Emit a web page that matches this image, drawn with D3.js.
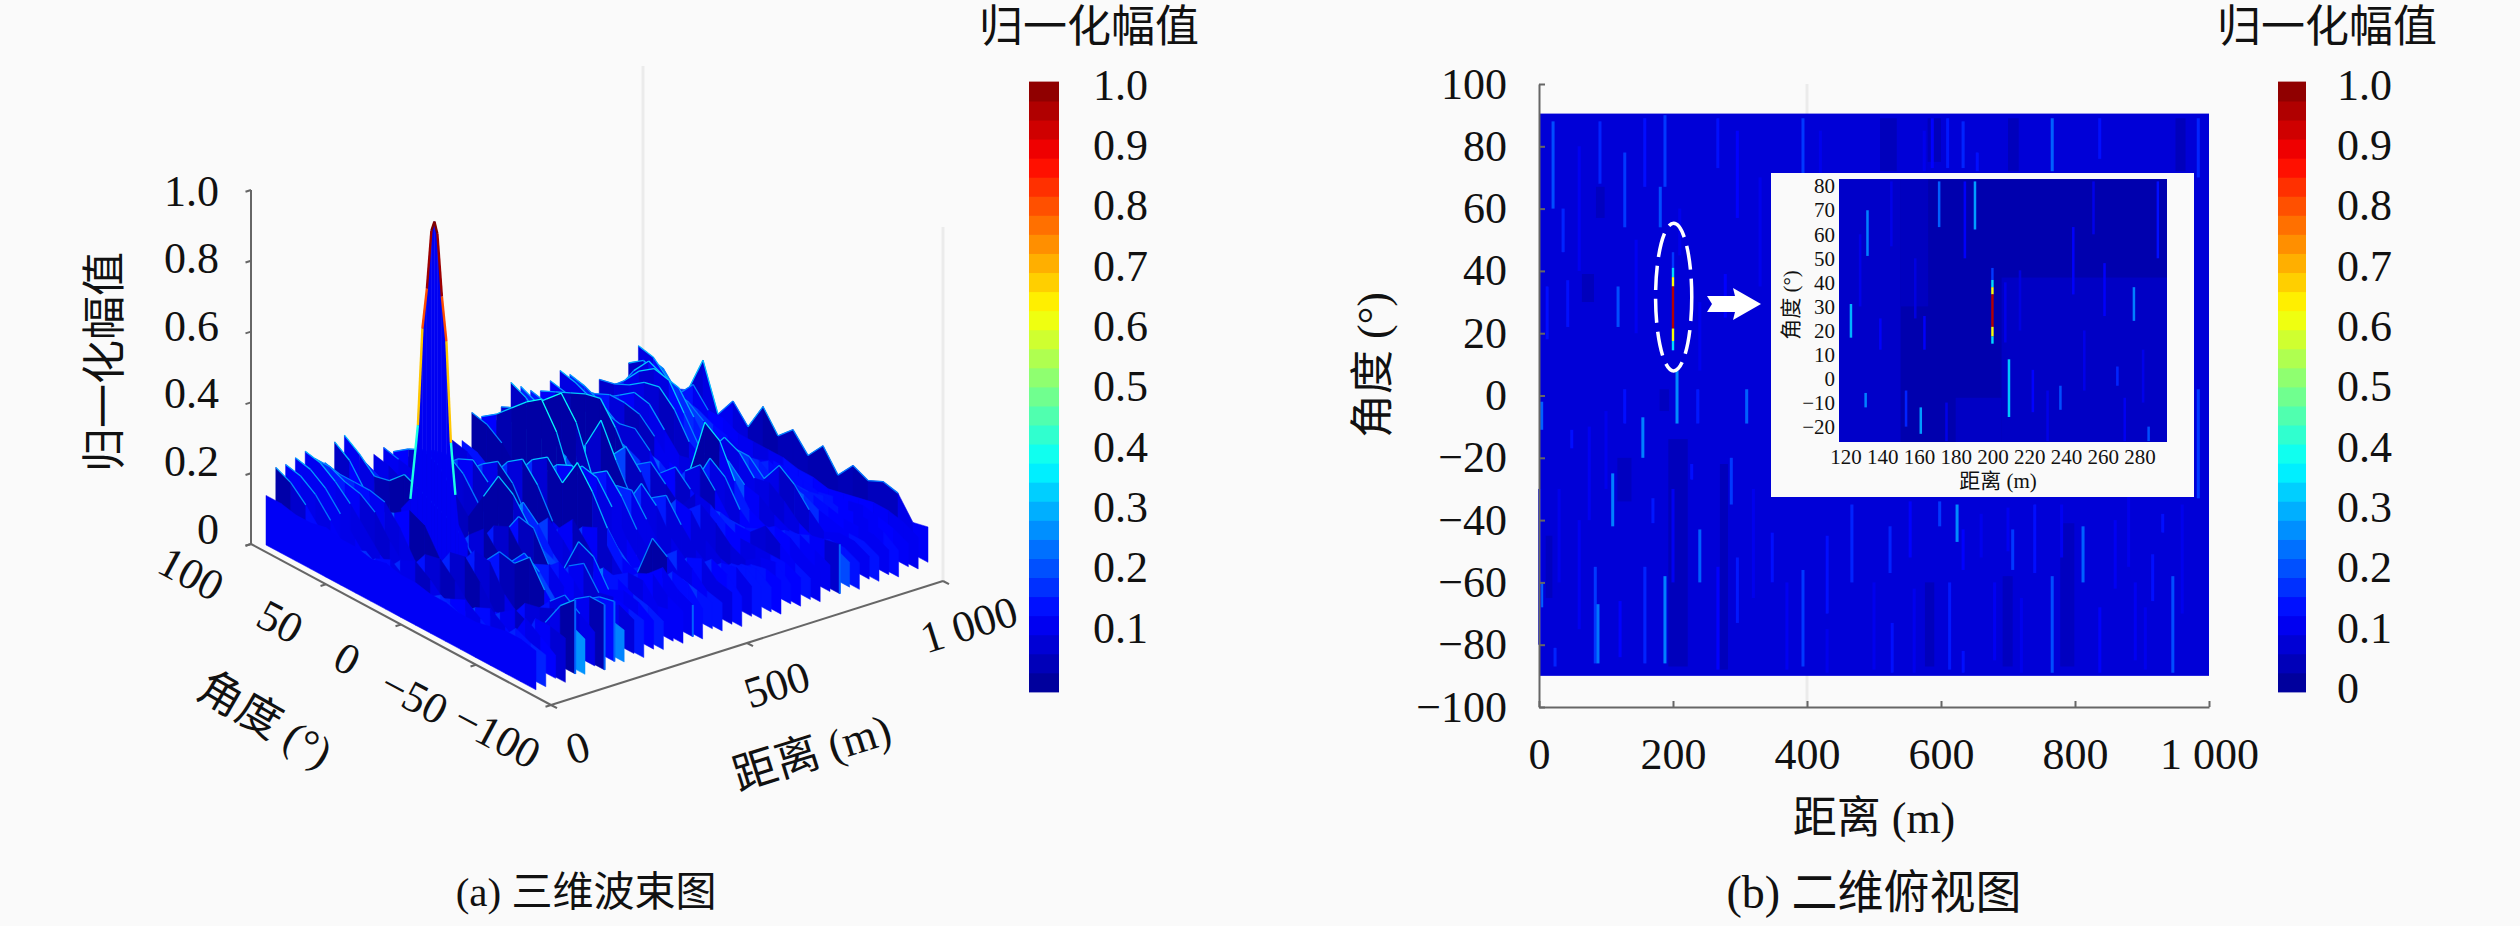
<!DOCTYPE html>
<html>
<head>
<meta charset="utf-8">
<script src="https://cdn.jsdelivr.net/npm/d3@7"></script>
<style>
  html, body { margin: 0; background: #fafafa; }
  svg { display: block; }
  text { font-family: 'Liberation Serif', 'Noto Sans CJK SC', serif; fill: #111; }
</style>
</head>
<body>
<svg id="chart" width="2520" height="926">
  <defs><filter id="soft"><feGaussianBlur stdDeviation="0.6"/></filter></defs>
</svg>
<script>
// ---- data ----
const surfaceRanges = d3.range(41).map(i => i * 25)
const surfaceAngles = [90, 80, 70, 60, 50, 40, 30, 20, 10, 0, -10, -20, -30, -40, -50, -60, -70, -80, -90]
// one row per range, one value per angle
const surfaceHeights = [
  [.16,.16,.15,.15,.16,.15,.15,.14,.15,.14,.14,.13,.13,.12,.12,.13,.14,.14,.13],
  [.23,.21,.17,.12,.09,.11,.13,.10,.08,.11,.09,.12,.10,.08,.10,.09,.14,.12,.11],
  [.23,.22,.19,.14,.08,.06,.10,.12,.09,.05,.08,.10,.12,.09,.06,.08,.16,.13,.10],
  [.24,.23,.20,.15,.10,.05,.06,.11,.13,.10,.06,.05,.09,.11,.08,.05,.15,.15,.14],
  [.25,.24,.21,.17,.12,.07,.04,.08,.14,.15,.11,.06,.05,.09,.12,.10,.13,.20,.24],
  [.22,.22,.20,.19,.16,.10,.05,.04,.09,.16,.17,.12,.06,.07,.13,.14,.16,.14,.12],
  [.20,.19,.19,.19,.18,.13,.06,.03,.05,.12,.18,.17,.10,.06,.10,.15,.19,.16,.13],
  [.25,.22,.16,.12,.14,.17,.15,.08,.04,.07,.14,.19,.18,.22,.15,.10,.17,.20,.20],
  [.26,.23,.19,.20,.24,.22,.20,.18,.14,.08,.10,.15,.20,.17,.12,.09,.16,.19,.20],
  [.20,.16,.12,.08,.05,.07,.12,.14,.09,.05,.06,.12,.16,.18,.14,.08,.13,.12,.11],
  [.17,.15,.11,.07,.04,.03,.06,.12,.16,.11,.05,.08,.14,.18,.15,.10,.12,.15,.13],
  [.18,.17,.15,.10,.06,.04,.04,.09,.16,.18,.12,.06,.10,.16,.19,.13,.14,.13,.12],
  [.19,.18,.17,.14,.10,.06,.05,.06,.13,.20,.19,.11,.12,.22,.20,.13,.15,.14,.11],
  [.17,.20,.22,.20,.15,.10,.18,.26,.23,.17,.12,.10,.08,.12,.16,.15,.13,.12,.10],
  [.14,.18,.21,.22,.19,.13,.08,.14,.20,.16,.10,.06,.05,.09,.13,.16,.16,.11,.12],
  [.12,.13,.16,.20,.22,.18,.10,.07,.12,.17,.13,.08,.04,.06,.11,.15,.17,.13,.11],
  [.12,.12,.13,.16,.20,.23,.19,.11,.07,.13,.18,.13,.07,.05,.09,.14,.18,.14,.12],
  [.12,.12,.11,.12,.16,.22,.25,.20,.12,.10,.15,.17,.11,.06,.08,.11,.16,.15,.10],
  [.12,.12,.10,.09,.12,.18,.24,.27,.22,.30,.24,.16,.10,.08,.20,.17,.13,.12,.11],
  [.15,.14,.11,.08,.07,.12,.19,.24,.26,.22,.16,.10,.06,.09,.14,.18,.15,.11,.10],
  [.14,.13,.10,.06,.05,.08,.14,.20,.25,.24,.18,.11,.06,.05,.10,.15,.17,.13,.12],
  [.21,.20,.17,.12,.08,.06,.10,.16,.22,.25,.20,.13,.08,.05,.07,.12,.16,.14,.10],
  [.19,.22,.26,.30,.33,.26,.14,.12,.15,.20,.21,.15,.09,.06,.06,.10,.14,.15,.12],
  [.17,.19,.20,.19,.20,.18,.14,.09,.09,.14,.22,.18,.11,.07,.05,.08,.13,.14,.11],
  [.20,.22,.25,.29,.33,.27,.15,.09,.06,.10,.17,.20,.14,.09,.06,.07,.12,.13,.10],
  [.26,.24,.20,.15,.12,.20,.29,.20,.12,.08,.12,.18,.17,.11,.08,.07,.11,.12,.11],
  [.24,.22,.18,.13,.08,.10,.18,.23,.18,.10,.09,.14,.18,.15,.11,.09,.12,.13,.09],
  [.22,.21,.18,.14,.09,.07,.10,.17,.20,.16,.12,.18,.17,.14,.12,.12,.12,.12,.10],
  [.21,.23,.25,.27,.28,.22,.14,.11,.16,.20,.16,.13,.14,.13,.13,.17,.14,.11,.09],
  [.23,.22,.20,.18,.17,.16,.14,.10,.11,.18,.22,.17,.11,.11,.13,.16,.15,.12,.10],
  [.25,.24,.22,.20,.19,.20,.16,.09,.08,.14,.23,.20,.13,.09,.11,.14,.15,.13,.11],
  [.23,.22,.20,.17,.14,.13,.12,.09,.14,.30,.27,.18,.12,.10,.10,.12,.14,.15,.16],
  [.18,.19,.21,.21,.20,.16,.11,.10,.17,.22,.20,.16,.15,.12,.10,.10,.12,.12,.10],
  [.15,.17,.20,.23,.22,.17,.12,.13,.18,.24,.22,.17,.18,.15,.11,.09,.11,.11,.09],
  [.19,.20,.22,.25,.26,.22,.15,.12,.16,.20,.20,.16,.22,.19,.14,.10,.12,.12,.10],
  [.16,.20,.25,.28,.27,.20,.13,.11,.13,.17,.18,.15,.16,.15,.13,.12,.11,.11,.09],
  [.15,.22,.27,.25,.24,.18,.12,.10,.11,.14,.17,.15,.14,.14,.13,.12,.12,.12,.10],
  [.21,.24,.22,.20,.19,.16,.12,.10,.10,.13,.14,.12,.12,.13,.12,.13,.13,.12,.09],
  [.25,.24,.20,.17,.16,.14,.13,.11,.11,.13,.13,.12,.11,.12,.13,.14,.13,.12,.10],
  [.21,.20,.15,.20,.15,.15,.13,.13,.13,.13,.12,.12,.11,.12,.13,.14,.14,.13,.11],
  [.165,.136,.153,.26,.13,.19,.14,.22,.16,.2,.15,.2,.14,.19,.17,.19,.18,.12,.13]
]
// lower edge of each range slice, the serrated front rim
const floorHeights = [
  .02,.02,.035,.015,.03,.02,.035,.015,.03,.02,.035,.015,.03,.02,.035,.02,.03,.015,.035,.02,.03,
  .015,.035,.02,.03,.015,.035,.02,.03,.015,.035,.02,.03,.015,.035,.02,.03,.015,.035,.02,.03
]
// range slices that end in a bright streak at the front
const endStreaks = [100, 175, 200, 400, 775]
// main lobe at 200 m
const peakRange = 200
const peakAngles = [52, 46, 41, 38, 35, 32, 30, 28, 25, 22, 19, 16, 14, 8]
const peakHeights = [.14, .18, .40, .68, .80, .97, 1, .97, .80, .68, .40, .26, .18, .14]

const colorbarTicksLeft = [.1, .2, .3, .4, .5, .6, .7, .8, .9, 1]
const colorbarTicksRight = [0, .1, .2, .3, .4, .5, .6, .7, .8, .9, 1]
const zTicks = [0, .2, .4, .6, .8, 1]
const angleTicks3d = [100, 50, 0, -50, -100]
const rangeTicks3d = [0, 500, 1000]
const rangeTicks2d = [0, 200, 400, 600, 800, 1000]
const angleTicks2d = [100, 80, 60, 40, 20, 0, -20, -40, -60, -80, -100]
const rangeTicksInset = [120, 140, 160, 180, 200, 220, 240, 260, 280]
const angleTicksInset = [80, 70, 60, 50, 40, 30, 20, 10, 0, -10, -20]

// top view: range, angle from, angle to, value
const heatBase = .08
const heatDark = [
  [193, 222, -14, -87, .05], [270, 282, -22, -88, .05], [509, 534, 89, 72, .05], [700, 716, 89, 72, .05],
  [778, 799, -41, -87, .055], [692, 707, -58, -87, .055], [576, 590, -60, -87, .05], [64, 82, 39, 30, .05],
  [85, 98, 67, 57, .055], [117, 138, -20, -34, .055], [10, 20, -45, -65, .055], [950, 965, 89, 72, .05],
  [580, 600, 89, 75, .05], [180, 194, 2, -5, .055]
]
const heatStreaks = [
  [21, 88, 60, .2], [36, 60, 46, .16], [91, 88, 68, .16], [128, 78, 54, .18], [158, 89, 67, .14],
  [188, 90, 67, .18], [181, 67, 54, .2], [267, 89, 73, .14], [296, 85, 57, .13], [394, 89, 71, .18],
  [118, 35, 22, .2], [43, 37, 22, .14], [12, 35, 18, .14], [278, 39, 25, .13], [206, 8, -9, .26],
  [4, -2, -11, .22], [4, -60, -68, .22], [49, -11, -17, .14], [128, 2, -9, .14], [155, -7, -20, .25],
  [237, 2, -9, .15], [310, 2, -9, .22], [110, -25, -42, .25], [170, -33, -41, .15], [228, -22, -27, .14],
  [287, -20, -35, .18], [240, -43, -60, .22], [348, -44, -60, .14], [84, -55, -86, .18], [88, -67, -86, .24],
  [158, -55, -86, .16], [188, -58, -86, .25], [121, -66, -84, .125], [24, -81, -87, .16], [267, -55, -88, .125],
  [296, -52, -73, .15], [394, -56, -87, .18], [430, -45, -70, .14], [467, -35, -60, .16], [524, -42, -57, .16],
  [554, -34, -52, .13], [598, -34, -42, .18], [624, -35, -47, .26], [633, -43, -56, .125], [707, -43, -56, .18],
  [740, -35, -57, .14], [766, -58, -89, .2], [812, -42, -60, .22], [916, -51, -66, .14], [946, -58, -89, .2],
  [931, -38, -44, .14], [984, 2, -33, .18], [613, -60, -88, .15], [527, -73, -89, .14], [633, -82, -89, .14],
  [837, -68, -89, .12], [587, 89, 73, .13], [610, 89, 73, .15], [633, 88, 73, .16], [654, 78, 72, .14],
  [766, 89, 72, .22], [837, 89, 76, .14], [984, 89, 70, .16],
  // fainter ones
  [60, 80, 40, .11], [75, -10, -40, .11], [145, 50, 20, .11], [210, 60, 45, .105], [240, 30, 8, .105],
  [330, 70, 35, .105], [360, 30, 0, .11], [420, 85, 60, .105], [470, 60, 30, .105], [30, -30, -60, .105],
  [60, -40, -75, .11], [100, -5, -30, .105], [200, -30, -60, .11], [320, -30, -65, .105], [370, -60, -88, .11],
  [500, -60, -88, .105], [560, -62, -89, .105], [680, -60, -85, .11], [720, -65, -89, .105], [880, -30, -55, .105],
  [890, -60, -85, .11], [960, -35, -70, .105], [860, -40, -62, .11], [780, -35, -52, .11], [660, -38, -52, .105],
  [575, 85, 72, .105], [700, -36, -50, .11], [905, -68, -88, .105], [430, -75, -89, .105], [1, -30, -80, .13]
]
const peakProfileAngles = [46, 41, 38, 35, 21.5, 17.5, 14.5]
const peakProfileValues = [.18, .34, .62, .95, .62, .34]

const insetBase = .035
const insetPatches = [
  [116.5, 150, 83, -26.4, .065], [150, 165, 83, 30, .055], [205, 295, 42, -26.4, .06], [180, 205, -8, -26.4, .06]
]
const insetStreaks = [
  [132, 70, 51, .25], [123, 31, 17, .3], [131, -6, -12, .25], [153, -5, -20, .16], [161, -12, -23, .28],
  [171, 82, 63, .22], [190.5, 82, 62, .28], [209, 8, -16, .32], [237, -3, -13, .2], [277, 38, 24, .25],
  [268, 5, -3, .16], [285, -20, -26, .2], [244, 63, 35, .12], [222, 3.6, -14, .13], [185, 82, 50, .12],
  [163, 26, 12, .12], [139, 25, 12, .12], [261, 48, 26, .12], [290, 82, 50, .14], [255, 82, 60, .1],
  [128, 60, 30, .1], [145, 82, 55, .1], [158, 50, 25, .09], [175, -10, -26, .1], [215, 45, 20, .09],
  [230, -5, -26, .1], [250, 20, -5, .1], [272, -8, -26, .11], [282, 12, -10, .1], [207, 40, 15, .1]
]

// ---- helpers ----
const jet = d3.scaleLinear()
  .domain([0, .125, .375, .625, .875, 1])
  .range(['#00008f', '#0000ff', '#00ffff', '#ffff00', '#ff0000', '#800000'])
  .clamp(true)

const svg = d3.select('#chart')
const labelFont = 44

const addText = (x, y, str, size, rotate = 0, anchor = 'middle') =>
  svg.append('text')
    .attr('transform', `translate(${x},${y}) rotate(${rotate})`)
    .attr('text-anchor', anchor)
    .attr('dominant-baseline', 'central')
    .attr('font-size', size)
    .text(str)

const formatTick = d => {
  const sign = d < 0 ? '\u2212' : ''
  const abs = Math.abs(d)
  return sign + (abs >= 1000 ? '1 000' : abs)
}
const formatBar = d => (d === 0 ? '0' : d.toFixed(1))

// ---- left panel, 3D beam ----
const rangeToX = d3.scaleLinear().domain([0, 1000]).range([0, 392])
const rangeToY = d3.scaleLinear().domain([0, 1000]).range([0, -124])
const angleToX = d3.scaleLinear().domain([100, -100]).range([0, 300])
const angleToY = d3.scaleLinear().domain([100, -100]).range([0, 161])
const heightToY = d3.scaleLinear().domain([0, 1]).range([0, -354])
const project = (r, a, z) => [
  251 + rangeToX(r) + angleToX(a),
  544 + rangeToY(r) + angleToY(a) + heightToY(z),
]
const line = d3.line()

// painter's order, far corner first: each range is a wall with its lobes on top
const pieces = []
const ridge = (r, angles, heights, threshold, width, lift) => {
  for (let j = 0; j < angles.length - 1; j++) {
    const top = Math.max(heights[j], heights[j + 1])
    if (top < threshold) continue
    pieces.push({
      d: line([project(r, angles[j], heights[j]), project(r, angles[j + 1], heights[j + 1])]),
      fill: 'none',
      stroke: jet(top + lift),
      width,
    })
  }
}
const wall = (r, angles, heights, floor, colorOf) => {
  for (let j = 0; j < angles.length - 1; j++) {
    const color = jet(colorOf(j))
    pieces.push({
      d: `${line([
        project(r, angles[j], heights[j]),
        project(r, angles[j + 1], heights[j + 1]),
        project(r, angles[j + 1], floor),
        project(r, angles[j], floor),
      ])}Z`,
      fill: color,
      stroke: color,
      width: .5,
    })
  }
}

surfaceRanges.slice().reverse().forEach(r => {
  const i = surfaceRanges.indexOf(r)
  const heights = surfaceHeights[i]
  const next = surfaceHeights[Math.max(i - 1, 0)]
  const last = surfaceAngles.length - 1
  // tall walls standing well above the next range stay dark, low ones come out pure blue
  const colorOf = i === 0
    ? () => .115
    : j => {
        const drop = (heights[j] + heights[j + 1] - next[j] - next[j + 1]) / 2
        return Math.max(.025, .125 - drop * 1.6)
      }
  wall(r, surfaceAngles, heights, floorHeights[i], colorOf)
  ridge(r, surfaceAngles, heights, i === 0 ? 2 : .19, 1.3, .05)
  if (endStreaks.includes(r)) {
    pieces.push({
      d: line([project(r, -90, heights[last]), project(r, -90, floorHeights[i])]),
      fill: 'none',
      stroke: jet(.22),
      width: 2,
    })
  }
  if (r === peakRange) {
    wall(r, peakAngles, peakHeights, 0, () => .11)
    ridge(r, peakAngles, peakHeights, .3, 2.4, 0)
  }
})

// faint box edges behind the surface
const boxEdges = [[1000, 100], [1000, -100]]
svg.append('g')
  .selectAll('path')
  .data(boxEdges)
  .join('path')
  .attr('d', d => line([project(d[0], d[1], 0), project(d[0], d[1], 1)]))
  .attr('stroke', '#ebebeb')
  .attr('stroke-width', 3)

svg.append('g')
  .selectAll('path')
  .data(pieces)
  .join('path')
  .attr('d', d => d.d)
  .attr('fill', d => d.fill)
  .attr('stroke', d => d.stroke)
  .attr('stroke-width', d => d.width)
  .attr('stroke-linejoin', 'round')

const axis3d = svg.append('g').attr('stroke', '#666').attr('stroke-width', 2).attr('fill', 'none')
axis3d.append('path').attr('d', line([project(0, 100, 0), project(0, 100, 1)]))
axis3d.append('path').attr('d', line([project(0, 100, 0), project(0, -100, 0)]))
axis3d.append('path').attr('d', line([project(0, -100, 0), project(1000, -100, 0)]))
axis3d.selectAll('path.z').data(zTicks).join('path').attr('class', 'z')
  .attr('d', d => line([project(0, 100, d), project(-14, 100, d)]))
axis3d.selectAll('path.a').data(angleTicks3d).join('path').attr('class', 'a')
  .attr('d', d => line([project(0, d, 0), project(-14, d, 0)]))
axis3d.selectAll('path.r').data(rangeTicks3d).join('path').attr('class', 'r')
  .attr('d', d => line([project(d, -100, 0), project(d, -104, 0)]))

const zLabelY = d3.scaleLinear().domain([0, 1]).range([529, 191])
zTicks.forEach(d => addText(219, zLabelY(d), d === 0 ? '0' : d.toFixed(1), labelFont, 0, 'end'))
const angleLabelX = d3.scaleLinear().domain([100, 50, 0, -50, -100]).range([191, 280, 347, 414, 497])
const angleLabelY = d3.scaleLinear().domain([100, 50, 0, -50, -100]).range([574, 622, 659, 697, 736])
angleTicks3d.forEach(d => addText(angleLabelX(d), angleLabelY(d), formatTick(d), labelFont, 28))
const rangeLabelX = d3.scaleLinear().domain([0, 500, 1000]).range([578, 777, 969])
const rangeLabelY = d3.scaleLinear().domain([0, 500, 1000]).range([748, 685, 625])
rangeTicks3d.forEach(d => addText(rangeLabelX(d), rangeLabelY(d), formatTick(d), labelFont, -17.5))
addText(105, 362, '归一化幅值', labelFont, -90)
addText(265, 720, '角度 (°)', labelFont, 30)
addText(812, 753, '距离 (m)', labelFont, -17.5)

// ---- colorbars ----
const drawColorbar = (x, width, ticks, labelX, titleX) => {
  const bandScale = d3.scaleBand().domain(d3.range(32)).range([692, 82])
  svg.append('g')
    .selectAll('rect')
    .data(d3.range(32))
    .join('rect')
    .attr('x', x)
    .attr('width', width)
    .attr('y', d => bandScale(d) - .4)
    .attr('height', bandScale.bandwidth() + .8)
    .attr('fill', d => jet((d + .5) / 32))
  const labelY = d3.scaleLinear().domain([0, 1]).range([688.6, 85])
  ticks.forEach(d => addText(labelX, labelY(d), formatBar(d), labelFont, 0, 'start'))
  addText(titleX, 27, '归一化幅值', labelFont)
}
drawColorbar(1029, 30, colorbarTicksLeft, 1093, 1089)
drawColorbar(2278, 28, colorbarTicksRight, 2337, 2327)

// ---- right panel, top view ----
const xMain = d3.scaleLinear().domain([0, 1000]).range([1539, 2209])
const yMain = d3.scaleLinear().domain([100, -100]).range([84, 707])
const xInset = d3.scaleLinear().domain([116.5, 295]).range([1839, 2167])
const yInset = d3.scaleLinear().domain([83, -26.4]).range([179, 442])

// faint grid line showing above and below the image
svg.append('path')
  .attr('d', line([[xMain(400), yMain(100)], [xMain(400), yMain(-100)]]))
  .attr('stroke', '#ebebeb')
  .attr('stroke-width', 3)

const drawHeat = (g, x, y, box, base, patches, streaks, streakWidth) => {
  g.append('rect')
    .attr('x', x(box[0]))
    .attr('y', y(box[2]))
    .attr('width', x(box[1]) - x(box[0]))
    .attr('height', y(box[3]) - y(box[2]))
    .attr('fill', jet(base))
  g.append('g').selectAll('rect')
    .data(patches)
    .join('rect')
    .attr('x', d => x(d[0]))
    .attr('width', d => x(d[1]) - x(d[0]))
    .attr('y', d => y(d[2]))
    .attr('height', d => y(d[3]) - y(d[2]))
    .attr('fill', d => jet(d[4]))
  g.append('g').attr('filter', 'url(#soft)').selectAll('rect')
    .data(streaks)
    .join('rect')
    .attr('x', d => x(d[0]) - streakWidth / 2)
    .attr('width', streakWidth)
    .attr('y', d => y(d[1]))
    .attr('height', d => y(d[2]) - y(d[1]))
    .attr('fill', d => jet(d[3]))
  // main lobe
  g.append('g').selectAll('rect')
    .data(peakProfileValues)
    .join('rect')
    .attr('x', x(200) - 1.2)
    .attr('width', 2.4)
    .attr('y', (d, i) => y(peakProfileAngles[i]))
    .attr('height', (d, i) => y(peakProfileAngles[i + 1]) - y(peakProfileAngles[i]))
    .attr('fill', d => jet(d))
}
drawHeat(svg.append('g'), xMain, yMain, [0, 1000, 90.5, -90], heatBase, heatDark, heatStreaks, 3)

const axisStyle = g => {
  g.selectAll('.domain').attr('stroke', '#666').attr('stroke-width', 2)
  g.selectAll('.tick line').attr('stroke', '#666').attr('stroke-width', 2)
  g.selectAll('text').attr('fill', '#111')
}
svg.append('g')
  .attr('transform', `translate(0,${yMain(-100)})`)
  .call(d3.axisBottom(xMain).tickValues(rangeTicks2d).tickFormat(formatTick).tickSizeOuter(0).tickSizeInner(-6).tickPadding(31))
  .call(axisStyle)
  .attr('font-size', labelFont)
  .attr('font-family', null)
svg.append('g')
  .attr('transform', `translate(${xMain(0)},0)`)
  .call(d3.axisLeft(yMain).tickValues(angleTicks2d).tickFormat(formatTick).tickSizeOuter(0).tickSizeInner(-6).tickPadding(32))
  .call(axisStyle)
  .attr('font-size', labelFont)
  .attr('font-family', null)
addText(1874, 818, '距离 (m)', labelFont)
addText(1373, 365, '角度 (°)', labelFont, -90)

// ellipse and arrow pointing to the inset
svg.append('ellipse')
  .attr('cx', xMain(201))
  .attr('cy', yMain(31.6))
  .attr('rx', xMain(27) - xMain(0))
  .attr('ry', yMain(0) - yMain(23.7))
  .attr('fill', 'none')
  .attr('stroke', '#fff')
  .attr('stroke-width', 3.5)
  .attr('stroke-dasharray', '24 9')
svg.append('path')
  .attr('d', `${line([[1707, 296], [1735, 296], [1733, 288], [1761, 304], [1733, 320], [1735, 312], [1707, 312], [1712, 304]])}Z`)
  .attr('fill', '#fff')

// inset
svg.append('rect')
  .attr('x', 1771)
  .attr('y', 173)
  .attr('width', 423)
  .attr('height', 324)
  .attr('fill', '#fafafa')
drawHeat(svg.append('g'), xInset, yInset, [116.5, 295, 83, -26.4], insetBase, insetPatches, insetStreaks, 2.5)
svg.append('g')
  .attr('transform', `translate(0,${yInset(-26.4)})`)
  .call(d3.axisBottom(xInset).tickValues(rangeTicksInset).tickFormat(formatTick).tickSize(0).tickPadding(7))
  .call(g => g.select('.domain').remove())
  .call(g => g.selectAll('text').attr('fill', '#111'))
  .attr('font-size', 21)
  .attr('font-family', null)
svg.append('g')
  .attr('transform', `translate(${xInset(116.5)},0)`)
  .call(d3.axisLeft(yInset).tickValues(angleTicksInset).tickFormat(formatTick).tickSize(0).tickPadding(4))
  .call(g => g.select('.domain').remove())
  .call(g => g.selectAll('text').attr('fill', '#111'))
  .attr('font-size', 21)
  .attr('font-family', null)
addText(1998, 481, '距离 (m)', 21)
addText(1791, 305, '角度 (°)', 21, -90)

// ---- captions ----
addText(586, 892, '(a) 三维波束图', 41)
addText(1874, 892, '(b) 二维俯视图', 46)
</script>
</body>
</html>
